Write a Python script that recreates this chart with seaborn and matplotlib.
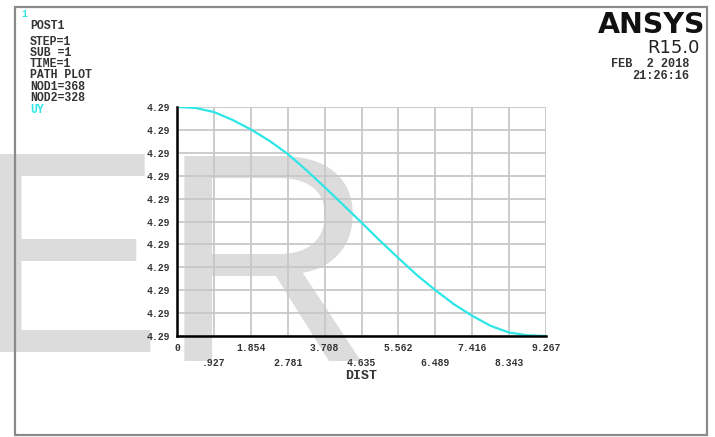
import numpy as np
import pandas as pd
import matplotlib
matplotlib.use("Agg")
import matplotlib.pyplot as plt
import seaborn as sns
from matplotlib.patches import Rectangle

# ---- data ----
dist = [0.0, 0.4635, 0.927, 1.390, 1.854, 2.317, 2.781, 3.244, 3.708, 4.171,
        4.635, 5.098, 5.562, 6.025, 6.489, 6.952, 7.416, 7.879, 8.343, 8.805, 9.267]
uy = [4.294000, 4.293984, 4.293912, 4.293776, 4.293608, 4.293412, 4.293180,
      4.292900, 4.292600, 4.292292, 4.291980, 4.291664, 4.291360, 4.291064,
      4.290800, 4.290556, 4.290352, 4.290176, 4.290060, 4.290012, 4.290000]
major_labels = ["0", "1.854", "3.708", "5.562", "7.416", "9.267"]
minor_labels = [".927", "2.781", "4.635", "6.489", "8.343"]
y_ticks = [4.2900, 4.2904, 4.2908, 4.2912, 4.2916, 4.2920,
           4.2924, 4.2928, 4.2932, 4.2936, 4.2940]
info_lines = ["POST1", "STEP=1", "SUB =1", "TIME=1", "PATH PLOT", "NOD1=368", "NOD2=328"]

df = pd.DataFrame({"DIST": dist, "UY": uy})

sns.set_style("white")
plt.rcParams["font.family"] = ["DejaVu Sans"]
mono = "Liberation Mono"

fig = plt.figure(figsize=(7.15, 4.37), dpi=100)
W, H = 715, 437

def fx(px):
    return px / W

def fy(py):
    return 1 - py / H

ax = fig.add_axes([fx(177), fy(336), (546 - 177) / W, (336 - 107) / H])
ax.set_facecolor("none")

sns.lineplot(data=df, x="DIST", y="UY", ax=ax, color="#2ee6e6", linewidth=1.6, zorder=5)

major_pos = [float(s) for s in major_labels]
minor_pos = [float(s) for s in minor_labels]
ax.set_xlim(0, 9.267)
ax.set_ylim(4.2900, 4.2940)
ax.set_xticks(major_pos)
ax.set_xticklabels(major_labels)
ax.set_xticks(minor_pos, minor=True)
ax.set_xticklabels(minor_labels, minor=True)
ax.set_yticks(y_ticks)
ax.set_yticklabels(["%.2f" % v for v in y_ticks])

ax.grid(True, which="both", color="#c8c8c8", linewidth=1.3)
ax.tick_params(axis="x", which="major", length=3, color="#c8c8c8", pad=2,
               labelsize=7, labelcolor="#333333")
ax.tick_params(axis="x", which="minor", length=3, color="#c8c8c8", pad=13,
               labelsize=7, labelcolor="#333333")
ax.tick_params(axis="y", length=3, color="#555555", pad=2, labelsize=7,
               labelcolor="#333333")
for lab in ax.get_xticklabels(which="both") + ax.get_yticklabels():
    lab.set_fontfamily(mono)
    lab.set_fontweight("bold")

for s in ["top", "right"]:
    ax.spines[s].set_visible(False)
for s in ["left", "bottom"]:
    ax.spines[s].set_color("black")
    ax.spines[s].set_linewidth(1.8)
    ax.spines[s].set_zorder(6)

ax.set_xlabel("DIST", fontfamily=mono, fontweight="bold", fontsize=9.5,
              color="#333333")
ax.xaxis.set_label_coords(0.5, (336 - 370) / 229)
ax.set_ylabel("")

# watermark letters
fig.text(fx(-30), fy(352), "E", fontsize=207, fontfamily="Liberation Sans",
         color="#dcdcdc", ha="left", va="baseline", zorder=-2)
fig.text(fx(160), fy(361), "R", fontsize=214, fontfamily="Liberation Sans",
         color="#dcdcdc", ha="left", va="baseline", zorder=-2)

# frame
fig.patches.append(Rectangle((fx(15), fy(435)), (707 - 15) / W, (435 - 7) / H,
                             transform=fig.transFigure, fill=False,
                             edgecolor="#8a8a8a", linewidth=1.6, zorder=10))

# header text
fig.text(fx(21), fy(14), "1", fontfamily=mono, fontweight="bold", fontsize=7,
         color="#2ee6e6", va="center")
ys = [26, 42, 53, 64, 75, 87, 98]
for t, y in zip(info_lines, ys):
    fig.text(fx(30), fy(y), t, fontfamily=mono, fontweight="bold", fontsize=8.3,
             color="#333333", va="center")
fig.text(fx(30), fy(110), "UY", fontfamily=mono, fontweight="bold", fontsize=8.3,
         color="#2ee6e6", va="center")

fig.text(fx(705), fy(33), "ANSYS", fontsize=20.5, fontweight="bold",
         color="#111111", ha="right", va="baseline")
fig.text(fx(700), fy(53), "R15.0", fontsize=13, color="#222222",
         ha="right", va="baseline")
fig.text(fx(689), fy(64), "FEB  2 2018", fontfamily=mono, fontweight="bold",
         fontsize=8.6, color="#333333", ha="right", va="center")
fig.text(fx(689), fy(76), "21:26:16", fontfamily=mono, fontweight="bold",
         fontsize=8.6, color="#333333", ha="right", va="center")

fig.savefig("out.png", dpi=100, facecolor="white")
